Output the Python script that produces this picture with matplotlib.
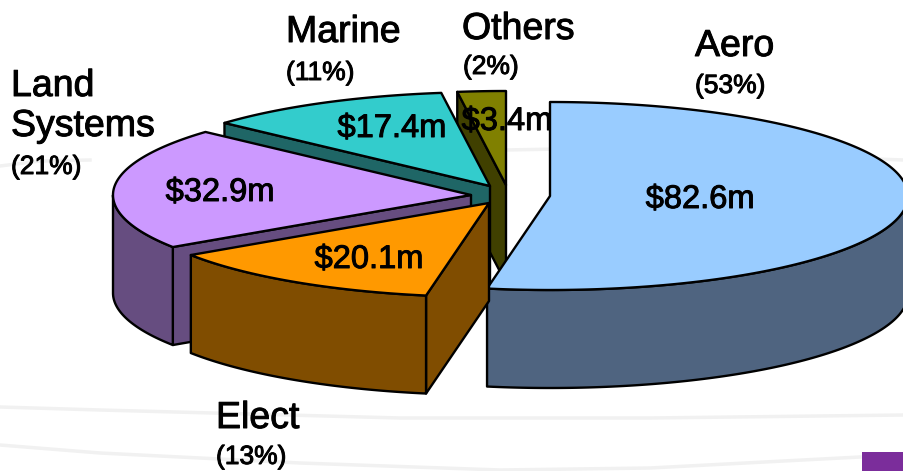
import numpy as np
import matplotlib
matplotlib.use("Agg")
import matplotlib.pyplot as plt
import matplotlib.patheffects as pe
from matplotlib.patches import Polygon, Rectangle

# slice data, clockwise from 12 o'clock
names = ["Aero", "Elect", "Land\nSystems", "Marine", "Others"]
values = [82.6, 20.1, 32.9, 17.4, 3.4]
percents = [53, 13, 21, 11, 2]

top_colors = ["#99CCFF", "#FF9900", "#CC99FF", "#33CCCC", "#808000"]
side_colors = ["#4F6480", "#804D00", "#664D80", "#1F6666", "#404000"]

# look of the pie, in pixels
centers = [(550, 196), (489, 203), (471, 195), (490, 186), (506, 185)]
rx, ry, depth = 358, 94, 98
draw_order = [4, 3, 2, 0, 1]

name_pos = [(695, 56), (216, 428), (11, 96), (286, 42), (462, 39)]
pct_pos = [(695, 93), (216, 464), (11, 174), (286, 80), (463, 74)]
val_pos = [(700, 208), (369, 268), (220, 201), (392, 137), (507, 130)]

plt.rcParams["font.family"] = ["Liberation Sans", "DejaVu Sans"]
fig = plt.figure(figsize=(9.04, 4.71), dpi=100)
ax = fig.add_axes([0, 0, 1, 1])
ax.set_xlim(0, 904)
ax.set_ylim(471, 0)
ax.axis("off")

# faint swooshes of the slide background
swooshes = [([0, 40, 90], [166, 161, 160]),
            ([505, 560, 700, 904], [150, 149, 153, 160]),
            ([0, 100, 400, 650, 904], [407, 410, 418, 418, 415]),
            ([0, 100, 300, 500, 650, 860], [445, 453, 463, 470, 468, 457])]
for sx, sy in swooshes:
    ax.plot(sx, sy, color="#F1F1F1", lw=2.5, zorder=0)
ax.add_patch(Rectangle((862, 452), 42, 19, color="#7B2D9B", lw=0, zorder=1))

edges = np.cumsum([0] + values) / sum(values) * 2 * np.pi


def rim(cx, cy, t):
    return cx + rx * np.sin(t), cy - ry * np.cos(t)


z = 2
for i in draw_order:
    cx, cy = centers[i]
    a0, a1 = edges[i], edges[i + 1]
    t = np.linspace(a0, a1, 200)
    x, y = rim(cx, cy, t)
    mx, my = rim(cx, cy, (a0 + a1) / 2)

    # cut faces, only the ones turned towards the viewer
    for a in (a0, a1):
        px, py = rim(cx, cy, a)
        nx, ny = -(py - cy), px - cx
        if nx * (mx - cx) + ny * (my - cy) > 0:
            nx, ny = -nx, -ny
        if ny > 0:
            ax.add_patch(Polygon([(cx, cy), (px, py), (px, py + depth), (cx, cy + depth)],
                                 fc=side_colors[i], ec="black", lw=1.7, zorder=z, joinstyle="round"))
            z += 1

    # outer wall, front half of the rim only
    front = (t > np.pi / 2) & (t < 3 * np.pi / 2)
    if front.any():
        wx, wy = x[front], y[front]
        wall = np.column_stack([np.r_[wx, wx[::-1]], np.r_[wy, wy[::-1] + depth]])
        ax.add_patch(Polygon(wall, fc=side_colors[i], ec="black", lw=1.7, zorder=z, joinstyle="round"))
        z += 1

    top = np.column_stack([np.r_[cx, x], np.r_[cy, y]])
    ax.add_patch(Polygon(top, fc=top_colors[i], ec="black", lw=1.7, zorder=z, joinstyle="round"))
    z += 1

heavy = [pe.withStroke(linewidth=0.7, foreground="black")]
for i in range(len(values)):
    lines = names[i].split("\n")
    for k, line in enumerate(lines):
        ax.text(name_pos[i][0], name_pos[i][1] + 40 * (k - len(lines) + 1) + (40 if len(lines) > 1 else 0),
                line, fontsize=27, va="baseline", ha="left", color="black", zorder=50, path_effects=heavy)
    ax.text(pct_pos[i][0], pct_pos[i][1], "(%d%%)" % percents[i], fontsize=19,
            va="baseline", ha="left", color="black", zorder=50, path_effects=heavy)
    ax.text(val_pos[i][0], val_pos[i][1], "$%.1fm" % values[i], fontsize=23.5,
            va="baseline", ha="center", color="black", zorder=50, parse_math=False, path_effects=heavy)

fig.savefig("out.png", dpi=100, facecolor="white")
